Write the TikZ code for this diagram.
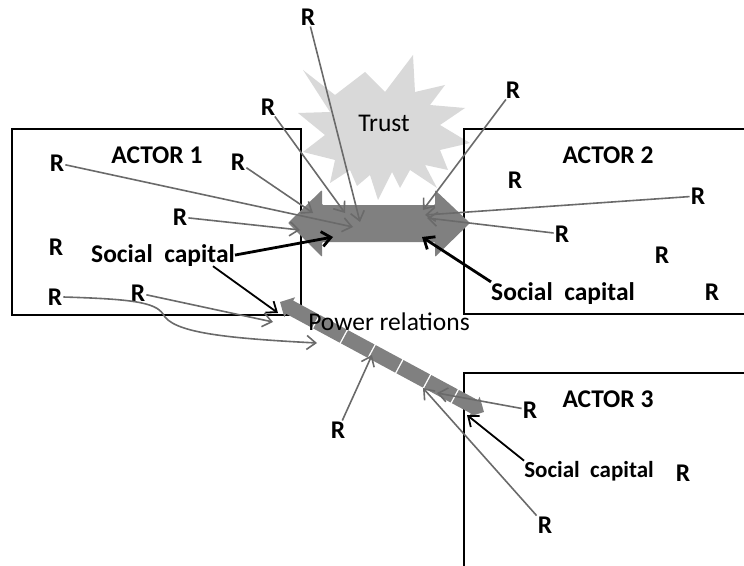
\documentclass[tikz,border=0pt]{standalone}
\usepackage{fontspec}
\setmainfont{Carlito}
\usetikzlibrary{arrows.meta}
\definecolor{rayline}{HTML}{6A6A6A}
\definecolor{flow}{HTML}{808080}
\definecolor{trustfill}{HTML}{D9D9D9}

\begin{document}
\begin{tikzpicture}[x=1bp,y=-1bp,
  rtag/.style={font=\fontsize{25.5bp}{30bp}\selectfont\bfseries, inner sep=1bp},
  actorname/.style={font=\fontsize{25.5bp}{30bp}\selectfont\bfseries, inner sep=0bp},
  captext/.style={font=\fontsize{25.5bp}{30bp}\selectfont\bfseries, inner sep=0bp, anchor=base},
  plain/.style={font=\fontsize{25.5bp}{30bp}\selectfont, inner sep=0bp, anchor=base},
  actorbox/.style={draw=black, line width=1.2bp},
  ray/.style={draw=rayline, line width=1.6bp, -{Straight Barb[length=9bp,width=14bp]}},
  capline/.style={draw=black, line width=2.8bp, -{Straight Barb[length=9bp,width=15bp]}},
  thinline/.style={draw=black, line width=1.8bp, -{Straight Barb[length=9bp,width=14bp]}},
  powerline/.style={draw=flow, line width=15bp, dash pattern=on 30bp off 1.5bp,
    {Triangle[width=22bp,length=11bp]}-{Triangle[width=22bp,length=11bp]}},
]
\useasboundingbox (0,0) rectangle (744,566);
\clip (0,0) rectangle (744,566);

% trust burst
\fill[trustfill] (303,70) -- (335,95) -- (365,72) -- (385,92) -- (413,55) -- (415,92)
  -- (445,85) -- (430,105) -- (465,108) -- (440,125) -- (470,143) -- (440,150)
  -- (448,170) -- (425,165) -- (437,188) -- (410,170) -- (400,188) -- (392,172)
  -- (378,200) -- (370,175) -- (357,186) -- (350,170) -- (330,183) -- (335,160)
  -- (303,152) -- (325,135) -- (298,113) -- (330,112) -- cycle;
\node[plain] (trust) at (384,132) {Trust};

% actor frames
\draw[actorbox] (12,129) rectangle (301,315);
\draw[actorbox] (464,129) rectangle (770,314);
\draw[actorbox] (464,373) rectangle (770,600);

% shared social capital between actors 1 and 2
\fill[flow, rounded corners=1bp] (288,223) -- (322,190) -- (322,205) -- (435,205) -- (435,190)
  -- (470,223) -- (435,257) -- (435,242) -- (322,242) -- (322,257) -- cycle;

% power relations link
\coordinate (p1) at (280,302);
\coordinate (p2) at (484,412);
\draw[powerline] (p1) -- (p2);
\node[plain] (power) at (389,330) {Power relations};

% labels
\node[actorname] (actor1) at (157,155) {ACTOR 1};
\node[actorname] (actor2) at (608,155) {ACTOR 2};
\node[actorname] (actor3) at (608,399) {ACTOR 3};
\node[captext] (sc1) at (163,262) {Social\ \ capital};
\node[captext] (sc2) at (563,300) {Social\ \ capital};
\node[captext, font=\fontsize{23bp}{27bp}\selectfont\bfseries] (sc3) at (589,477) {Social\ \ capital};

% resources
\node[rtag] (rt1) at (308,17) {R};
\node[rtag] (rt2) at (268,107) {R};
\node[rtag] (rt3) at (513,90) {R};
\node[rtag] (ra1) at (57,163) {R};
\node[rtag] (ra2) at (238,162) {R};
\node[rtag] (ra3) at (180,217) {R};
\node[rtag] (ra4) at (56,247) {R};
\node[rtag] (ra5) at (55,297) {R};
\node[rtag] (ra6) at (138,293) {R};
\node[rtag] (rb1) at (515,180) {R};
\node[rtag] (rb2) at (698,196) {R};
\node[rtag] (rb3) at (562,234) {R};
\node[rtag] (rb4) at (662,255) {R};
\node[rtag] (rb5) at (712,292) {R};
\node[rtag] (rc1) at (530,410) {R};
\node[rtag] (rc2) at (683,473) {R};
\node[rtag] (rc3) at (545,525) {R};
\node[rtag] (rp) at (338,430) {R};

% end points on the arrows
\coordinate (h1) at (313,213);
\coordinate (h2) at (345,213);
\coordinate (h3) at (360,222);
\coordinate (h4) at (353,227);
\coordinate (h5) at (300,230);
\coordinate (h6) at (423,210);
\coordinate (h7) at (425,215);
\coordinate (h8) at (427,218);
\coordinate (h9) at (273,322);
\coordinate (h10) at (317,343);
\coordinate (h11) at (372,355);
\coordinate (h12) at (437,393);
\coordinate (h13) at (423,388);
\coordinate (c1) at (333,237);
\coordinate (c2) at (422,237);
\coordinate (c3) at (278,313);
\coordinate (c4) at (467,415);

% resource flows
\draw[ray] (rt1) -- (h3);
\draw[ray] (rt2) -- (h2);
\draw[ray] (rt3) -- (h6);
\draw[ray] (ra1) -- (h4);
\draw[ray] (ra2) -- (h1);
\draw[ray] (ra3) -- (h5);
\draw[ray] (rb2) -- (h7);
\draw[ray] (rb3) -- (h8);
\draw[ray] (ra6) -- (h9);
\draw[ray] (ra5.east) .. controls (130,299) and (155,302) .. (163,314)
  .. controls (172,332) and (220,338) .. (h10);
\draw[ray] (rp) -- (h11);
\draw[ray] (rc1) -- (h12);
\draw[ray] (rc3) -- (h13);

% social capital pointers
\draw[capline] (sc1.east) -- (c1);
\draw[capline] (sc2.north west) -- (c2);
\draw[thinline] ([xshift=-22bp]sc1.south east) -- (c3);
\draw[thinline] (sc3.north west) -- (c4);
\end{tikzpicture}
\end{document}
